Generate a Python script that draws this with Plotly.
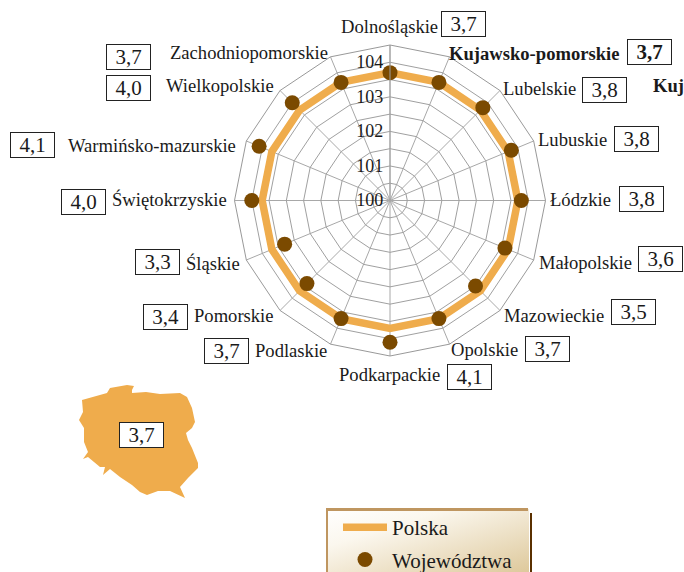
import base64
import plotly.graph_objects as go

W, H = 684, 572

# ---- data ----
regions = ["Dolnośląskie", "Kujawsko-pomorskie", "Lubelskie", "Lubuskie", "Łódzkie", "Małopolskie",
           "Mazowieckie", "Opolskie", "Podkarpackie", "Podlaskie", "Pomorskie", "Śląskie",
           "Świętokrzyskie", "Warmińsko-mazurskie", "Wielkopolskie", "Zachodniopomorskie"]
region_values = [3.7, 3.7, 3.8, 3.8, 3.8, 3.6, 3.5, 3.7, 4.1, 3.7, 3.4, 3.3, 4.0, 4.1, 4.0, 3.7]
poland_value = 3.7
radial_ticks = [100, 100.5, 101, 101.5, 102, 102.5, 103, 103.5, 104, 104.5]
radial_labels = ["100", "", "101", "", "102", "", "103", "", "104", ""]

# ---- layout positions (pixels) ----
label_right = [440, 621, 578, 609, 613, 634, 606, 520, 442, 329, 276, 242, 229, 238, 276, 330]
label_y = [27, 53, 88, 139, 199, 262, 315, 349, 374, 350, 316, 263, 199, 146, 86, 52]
box_cx = [463, 649.5, 604, 636, 641, 660.5, 633.5, 547.5, 469.5, 226.5, 165.5, 157, 83, 32, 128, 128]
box_cy = [24.5, 52.5, 89.5, 139.5, 199, 259, 312, 348.5, 376.5, 350.5, 317, 262, 202.5, 145, 88.5, 57]
map_outline = [(82,400),(107,393),(110,388),(127,385),(134,386),(132,390),(132,393),(146,392),(160,394),
               (180,393),(187,397),(192,408),(195,422),(192,428),(186,433),(188,440),(192,448),(198,463),
               (198,468),(188,478),(180,487),(185,498),(170,491),(158,491),(147,495),(140,492),(132,485),
               (120,477),(110,469),(103,475),(105,467),(100,467),(88,457),(83,459),(88,452),(84,442),
               (84,428),(79,420),(83,412)]

px = lambda x: x / W
py = lambda y: 1 - y / H

SERIF = "Liberation Serif"
ORANGE = "#EFAC4C"
BROWN = "#7B4A00"

fig = go.Figure()
fig.add_trace(go.Scatterpolar(
    r=[100 + poland_value] * len(regions) + [100 + poland_value],
    theta=regions + regions[:1], mode="lines", name="Polska",
    legendgroup="a", line=dict(color=ORANGE, width=7.5)))
fig.add_trace(go.Scatterpolar(
    r=[100 + v for v in region_values], theta=regions, mode="markers", name="Województwa",
    legendgroup="b", marker=dict(color=BROWN, size=15)))

annotations = []
for i, name in enumerate(regions):
    bold = name.startswith("Kujawsko")
    annotations.append(dict(x=px(label_right[i]), y=py(label_y[i]), xref="paper", yref="paper",
                            text=f"<b>{name}</b>" if bold else name, showarrow=False,
                            xanchor="right", yanchor="middle",
                            font=dict(family=SERIF, size=18.6, color="#1a1a1a")))
    val = f"{region_values[i]:.1f}".replace(".", ",")
    annotations.append(dict(x=px(box_cx[i]), y=py(box_cy[i]), xref="paper", yref="paper",
                            text=f"<b>{val}</b>" if bold else val, showarrow=False,
                            xanchor="center", yanchor="middle", width=43, height=24, borderpad=0,
                            bordercolor="#222", borderwidth=1, bgcolor="white",
                            font=dict(family=SERIF, size=21, color="#1a1a1a")))
annotations.append(dict(x=px(651), y=py(86), xref="paper", yref="paper", text="<b>Kuj</b>", showarrow=False,
                        xanchor="left", yanchor="middle", font=dict(family=SERIF, size=18.6, color="#1a1a1a")))
annotations.append(dict(x=px(141), y=py(435), xref="paper", yref="paper",
                        text=f"{poland_value:.1f}".replace(".", ","), showarrow=False,
                        xanchor="center", yanchor="middle", width=43, height=24, borderpad=0,
                        bordercolor="#222", borderwidth=1, bgcolor="white",
                        font=dict(family=SERIF, size=21, color="#1a1a1a")))

map_path = "M" + "L".join(f"{px(x):.5f},{py(y):.5f}" for x, y in map_outline) + "Z"
shapes = [
    dict(type="path", xref="paper", yref="paper", path=map_path, fillcolor=ORANGE, line=dict(width=0), layer="below"),
    dict(type="rect", xref="paper", yref="paper", x0=px(326), x1=px(528), y0=py(508), y1=py(511),
         fillcolor="#BF9660", line=dict(width=0)),
    dict(type="rect", xref="paper", yref="paper", x0=px(326), x1=px(328), y0=py(508), y1=py(572),
         fillcolor="#BF9660", line=dict(width=0)),
    dict(type="rect", xref="paper", yref="paper", x0=px(530), x1=px(532), y0=py(513), y1=py(572),
         fillcolor="#5A3000", line=dict(width=0)),
]

svg = ('<svg xmlns="http://www.w3.org/2000/svg" width="202" height="64">'
       '<defs><linearGradient id="g" x1="0" y1="0" x2="1" y2="1">'
       '<stop offset="0" stop-color="#FFFFFF"/><stop offset="0.3" stop-color="#FBF7EE"/>'
       '<stop offset="1" stop-color="#DEC99C"/></linearGradient></defs>'
       '<rect width="202" height="64" fill="url(#g)"/></svg>')
uri = "data:image/svg+xml;base64," + base64.b64encode(svg.encode()).decode()

fig.update_layout(
    width=W, height=H, margin=dict(l=0, r=0, t=0, b=0, autoexpand=False), paper_bgcolor="white", plot_bgcolor="white",
    font=dict(family=SERIF, color="#1a1a1a"),
    polar=dict(
        domain=dict(x=[px(234.5), px(545.5)], y=[py(356), py(45)]),
        bgcolor="rgba(0,0,0,0)", gridshape="linear",
        angularaxis=dict(rotation=90, direction="clockwise", categoryorder="array", categoryarray=regions,
                         showticklabels=False, ticks="", gridcolor="#A8A8A8", gridwidth=1,
                         linecolor="#999999", linewidth=1),
        radialaxis=dict(range=[100, 104.5], angle=90, tickangle=90, side="counterclockwise",
                        tickmode="array", tickvals=radial_ticks, ticktext=radial_labels,
                        ticks="", showline=True, linecolor="#A0A0A0", linewidth=1,
                        gridcolor="#A0A0A0", gridwidth=1,
                        tickfont=dict(family=SERIF, size=18, color="#1a1a1a")),
    ),
    legend=dict(x=px(338), y=py(507), xanchor="left", yanchor="top", bgcolor="rgba(0,0,0,0)",
                itemwidth=44, tracegroupgap=2, traceorder="grouped",
                font=dict(family=SERIF, size=21, color="#1a1a1a")),
    annotations=annotations, shapes=shapes,
    images=[dict(source=uri, xref="paper", yref="paper", x=px(327), y=py(509), sizex=202/W, sizey=63/H,
                 sizing="stretch", xanchor="left", yanchor="top", layer="below")],
)

fig.write_html("out.html", config=dict(displayModeBar=False),
               post_script="document.body.style.margin='0';document.body.style.overflow='hidden';")
